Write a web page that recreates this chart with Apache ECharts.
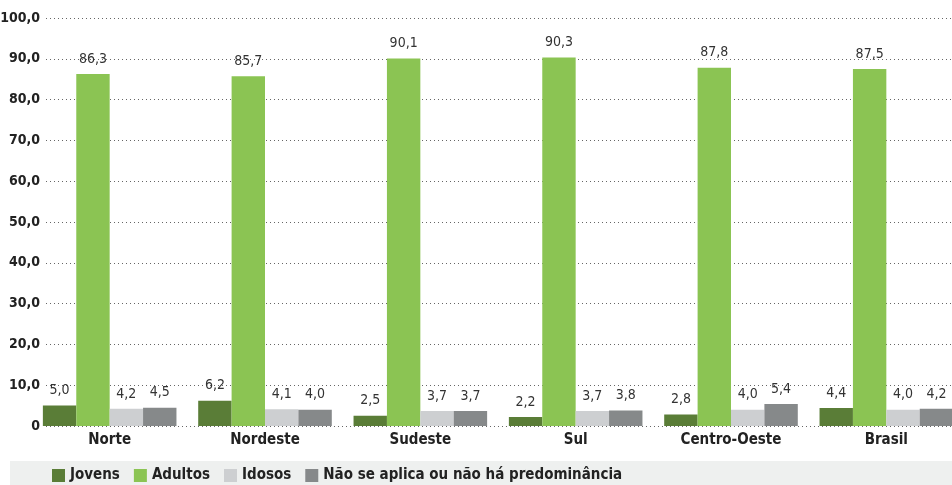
<!DOCTYPE html>
<html>
<head>
<meta charset="utf-8">
<script src="https://cdn.jsdelivr.net/npm/echarts@6/dist/echarts.min.js"></script>
<style>
  html, body { margin: 0; padding: 0; background: #fff; }
  #chart { width: 952px; height: 485px; }
</style>
</head>
<body>
<div id="chart"></div>
<script>
// dados
var regioes = ["Norte", "Nordeste", "Sudeste", "Sul", "Centro-Oeste", "Brasil"];
var jovens = [5.0, 6.2, 2.5, 2.2, 2.8, 4.4];
var adultos = [86.3, 85.7, 90.1, 90.3, 87.8, 87.5];
var idosos = [4.2, 4.1, 3.7, 3.7, 4.0, 4.0];
var naoSeAplica = [4.5, 4.0, 3.7, 3.8, 5.4, 4.2];
var nomes = ["Jovens", "Adultos", "Idosos", "Não se aplica ou não há predominância"];
var cores = ["#5a7d37", "#8bc453", "#cdcfd1", "#86898a"];

var FONTE = "'DejaVu Sans Condensed', 'Liberation Sans Narrow', sans-serif";

function virgula(v) {
  return v.toFixed(1).replace(".", ",");
}

var chart = echarts.init(document.getElementById("chart"));

function serie(nome, dados, cor) {
  return {
    name: nome,
    type: "bar",
    xAxisIndex: 0,
    yAxisIndex: 0,
    data: dados,
    barGap: "0%",
    barCategoryGap: "14%",
    itemStyle: { color: cor },
    label: {
      show: true,
      position: "top",
      distance: 8,
      color: "#333",
      fontFamily: FONTE,
      fontSize: 14,
      formatter: function (p) { return virgula(p.value); }
    }
  };
}

chart.setOption({
  animation: false,
  textStyle: { fontFamily: FONTE },
  graphic: [
    {
      type: "rect",
      left: 10, top: 461,
      shape: { width: 942, height: 24 },
      style: { fill: "#eef0ef" },
      z: -1
    }
  ],
  legend: {
    left: 47,
    top: 463,
    itemWidth: 13,
    itemHeight: 13,
    itemGap: 14,
    icon: "rect",
    textStyle: { fontFamily: FONTE, fontWeight: "bold", fontSize: 15, color: "#222" },
    data: nomes
  },
  grid: [
    { left: 32, right: -12, top: 18, bottom: 59, outerBoundsMode: "none", containLabel: false },
    { left: 46, right: 0, top: 18, bottom: 59, outerBoundsMode: "none", containLabel: false }
  ],
  xAxis: [
    {
      type: "category",
      gridIndex: 0,
      data: regioes,
      axisLine: { show: false },
      axisTick: { show: false },
      axisLabel: { fontFamily: FONTE, fontWeight: "bold", fontSize: 15, color: "#222", margin: 7 }
    },
    {
      type: "category",
      gridIndex: 1,
      data: regioes,
      show: false
    }
  ],
  yAxis: [
    {
      type: "value",
      gridIndex: 0,
      min: 0, max: 100, interval: 10,
      axisLine: { show: false },
      axisTick: { show: false },
      splitLine: { show: false },
      axisLabel: {
        margin: -8,
        fontFamily: FONTE, fontWeight: "bold", fontSize: 14, color: "#222",
        formatter: function (v) { return v === 0 ? "0" : virgula(v); }
      }
    },
    {
      type: "value",
      gridIndex: 1,
      min: 0, max: 100, interval: 10,
      axisLine: { show: false },
      axisTick: { show: false },
      axisLabel: { show: false },
      splitLine: { show: true, lineStyle: { color: "#666", type: [1, 3], width: 1 } }
    }
  ],
  series: [
    serie(nomes[0], jovens, cores[0]),
    serie(nomes[1], adultos, cores[1]),
    serie(nomes[2], idosos, cores[2]),
    serie(nomes[3], naoSeAplica, cores[3])
  ]
});
</script>
</body>
</html>
